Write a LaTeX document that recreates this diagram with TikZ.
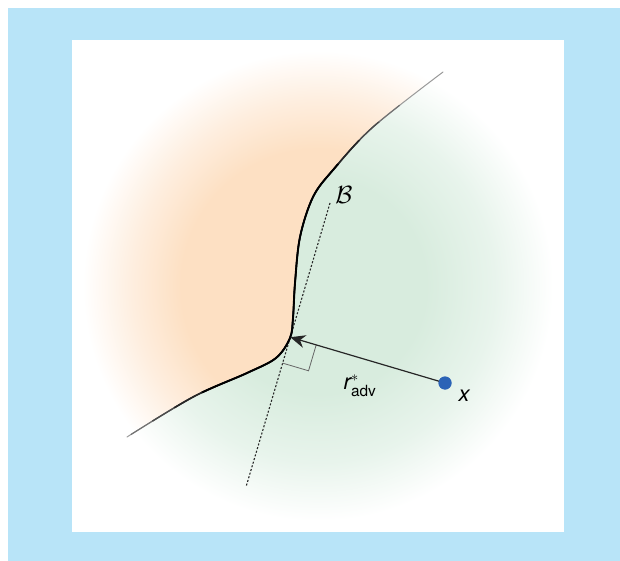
\documentclass[tikz,border=0pt]{standalone}
\usepackage{amsmath}
\usepackage{fontspec}
\newfontfamily\labelfont{TeX Gyre Heros}
\usetikzlibrary{arrows.meta,calc}

\definecolor{frameblue}{HTML}{B8E4F8}
\definecolor{peach}{HTML}{FDE0C3}
\definecolor{peachsoft}{HTML}{FEEEDF}
\definecolor{mint}{HTML}{D8ECDE}
\definecolor{mintsoft}{HTML}{E8F4EC}
\definecolor{dotblue}{HTML}{2B63B6}

\pgfdeclareradialshading{peachglow}{\pgfpoint{0bp}{0bp}}{color(0bp)=(peach); color(14bp)=(peach); color(19bp)=(peachsoft); color(24bp)=(white); color(50bp)=(white)}
\pgfdeclareradialshading{mintglow}{\pgfpoint{0bp}{0bp}}{color(0bp)=(mint); color(11bp)=(mint); color(18bp)=(mintsoft); color(24bp)=(white); color(50bp)=(white)}

\begin{document}
\begin{tikzpicture}[
    x=1pt, y=-1pt,
    boundary/.style={line width=1pt, black!40, line cap=round},
    normalline/.style={line width=1.1pt, black!85, dash pattern=on 2pt off 1.8pt},
    perturb/.style={-{Stealth[length=15pt, width=13pt]}, line width=1.2pt, black!85},
    rightangle/.style={line width=0.8pt, black!60},
    point/.style={circle, fill=dotblue, inner sep=0pt, minimum size=13pt},
    lbl/.style={font=\labelfont\fontsize{22}{26}\selectfont, inner sep=1pt}
]

% ---------- Frame ----------
\useasboundingbox (0,0) rectangle (620,561);
\fill[frameblue] (8,8) rectangle (620,561);
\fill[white] (72,40) rectangle (564,532);

% ---------- Parameters ----------
\def\boundarypts{(127,437) (193,397) (247,373) (276,358) (290,338) (293,318) (295,283) (300,237) (313,197) (333,170) (373,127) (443,72)}

% ---------- Class regions ----------
\shade[shading=mintglow] (318,286) circle (245pt);
\begin{scope}
    \clip (20,502) -- plot[smooth, tension=0.55] coordinates {\boundarypts}
        -- (540,-2) -- (0,-2) -- (0,502) -- cycle;
    \shade[shading=peachglow] (318,286) circle (245pt);
\end{scope}

% ---------- Tangent line ----------
\node[point] (xpt) at (445,383) {};
\coordinate (btop) at (330,203);
\coordinate (bbot) at (246,487);
\coordinate (foot) at ($(btop)!(xpt)!(bbot)$);
\draw[normalline] (btop) -- (bbot);

% ---------- Decision boundary ----------
\draw[boundary] plot[smooth, tension=0.55] coordinates {\boundarypts};
\foreach \rad/\wid/\shd in {215/1.2/55, 190/1.4/70, 165/1.6/85, 135/1.9/100}{
    \begin{scope}
        \clip (290,290) circle (\rad pt);
        \draw[line width=\wid pt, black!\shd] plot[smooth, tension=0.55] coordinates {\boundarypts};
    \end{scope}
}

% ---------- Perturbation ----------
\coordinate (sqa) at ($(foot)!27pt!(bbot)$);
\coordinate (sqb) at ($(foot)!27pt!(xpt)$);
\draw[rightangle] (sqa) -- ($(sqa)+(sqb)-(foot)$) -- (sqb);
\draw[perturb] (xpt.center) -- (foot);
\node[point] at (xpt) {};

% ---------- Labels ----------
\node[lbl] (xlbl) at (464,396) {\itshape x};
\node[lbl] (rlbl) at (360,386) {$\textit{r}^{*}_{\textup{adv}}$};
\node[font=\fontsize{24}{28}\selectfont, inner sep=1pt] (blbl) at (344,195) {$\mathcal{B}$};

\end{tikzpicture}
\end{document}
